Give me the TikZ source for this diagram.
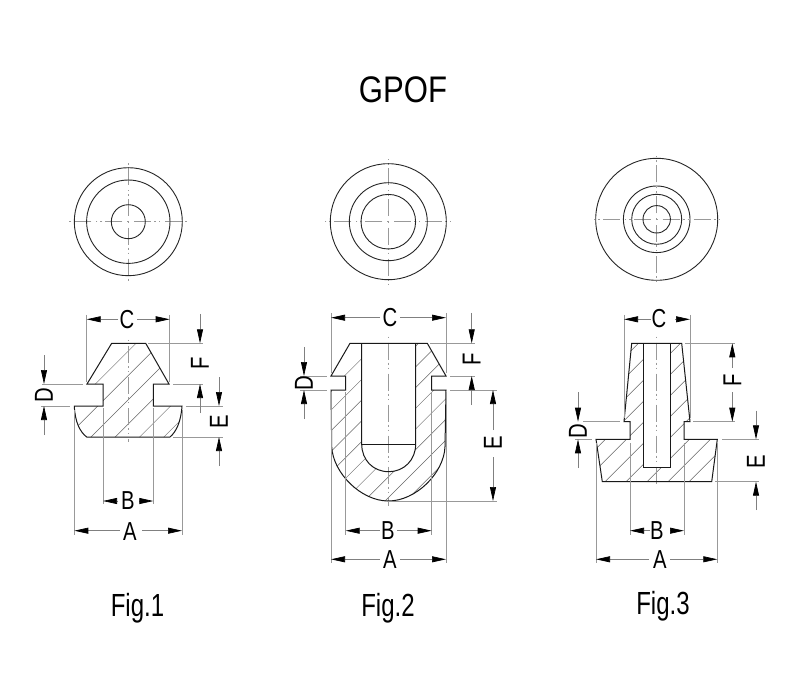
\documentclass[tikz,border=0pt]{standalone}
\usepackage{fontspec}
\setmainfont{Liberation Sans}
\usetikzlibrary{arrows.meta}
\tikzset{
  x=1pt,y=-1pt,
  outline/.style={draw=black!90,line width=1pt,line join=miter},
  thinout/.style={draw=black!85,line width=0.9pt},
  hatchline/.style={draw=black!60,line width=0.45pt},
  extline/.style={draw=black!40,line width=0.7pt},
  dimline/.style={draw=black!50,line width=0.7pt,-{Triangle[length=14pt,width=6pt,fill=black,color=black]}},
  dimtext/.style={font=\fontsize{26}{26}\selectfont,xscale=0.78,inner sep=0pt},
  figtext/.style={font=\fontsize{32}{32}\selectfont,xscale=0.75,inner sep=0pt,anchor=base},
  titletext/.style={font=\fontsize{37}{37}\selectfont,xscale=0.84,inner sep=0pt},
  centre/.style={draw=black!40,line width=0.8pt,dash pattern=on 1pt off 5pt on 17pt off 3pt on 2pt off 3pt},
}
\newcommand{\crossmark}[5]{%
  \draw[centre] (#1,#2) -- ++(#3,0);
  \draw[centre] (#1,#2) -- ++(-#3,0);
  \draw[centre] (#1,#2) -- ++(0,#4);
  \draw[centre] (#1,#2) -- ++(0,-#5);
}
\newcommand{\rotlabel}[4]{\node[rotate=90,dimtext] (#1) at (#2,#3) {#4};}
\begin{document}
\begin{tikzpicture}
\useasboundingbox (0,0) rectangle (800,700);
\fill[white] (0,0) rectangle (800,700);

% titles
\node[titletext] (title) at (403,90) {GPOF};
\node[figtext] (fig1) at (137.5,616) {Fig.1};
\node[figtext] (fig2) at (388,616) {Fig.2};
\node[figtext] (fig3) at (663,614) {Fig.3};

% top views
\crossmark{128.3}{221.7}{60}{59}{59}
\foreach \r in {54,41.7,17} \draw[thinout] (128.3,221.7) circle[radius=\r];
\crossmark{388.3}{221.7}{63.5}{63.5}{63.5}
\foreach \r in {58,39,27.3} \draw[thinout] (388.3,221.7) circle[radius=\r];
\crossmark{656.7}{219.3}{66.5}{67.5}{66.5}
\foreach \r in {61,33.3,25,13.7} \draw[thinout] (656.7,219.3) circle[radius=\r];

% ---------- Fig.1 section ----------
\begin{scope}
\clip (111.7,343.3) -- (145.7,343.3) -- (169,384) -- (153.3,384) -- (153.3,406) -- (182,406)
  .. controls (181,422) and (176,432) .. (170,437) -- (86.7,437)
  .. controls (80,432) and (75,422) .. (74.3,406) -- (103,406) -- (103,384) -- (87,384) -- cycle;
\foreach \k in {-4,...,3} {\pgfmathsetmacro{\s}{528+24.3*\k}
  \draw[hatchline] (\s-300,300) -- (\s-500,500);}
\end{scope}
\draw[centre] (128.3,340) -- (128.3,441.7);
\draw[outline] (111.7,343.3) -- (145.7,343.3) -- (169,384) -- (153.3,384) -- (153.3,406) -- (182,406)
  .. controls (181,422) and (176,432) .. (170,437) -- (86.7,437)
  .. controls (80,432) and (75,422) .. (74.3,406) -- (103,406) -- (103,384) -- (87,384) -- cycle;
% extension lines
\draw[extline] (86.7,315) -- (86.7,381.7);
\draw[extline] (169.7,315) -- (169.7,381.7);
\draw[extline] (148,343.3) -- (203,343.3);
\draw[extline] (173,384) -- (203,384);
\draw[extline] (186,406) -- (223,406);
\draw[extline] (173,437) -- (223,437);
\draw[extline] (42,384) -- (83,384);
\draw[extline] (41,406) -- (70,406);
\draw[extline] (103,408) -- (103,504);
\draw[extline] (153.3,408) -- (153.3,504);
\draw[extline] (74.3,410) -- (74.3,535);
\draw[extline] (182,410) -- (182,535);
% dimensions
\draw[dimline] (118,319.3) -- (86.7,319.3);
\draw[dimline] (137,319.3) -- (169.7,319.3);
\node[dimtext] (c1) at (127,320) {C};
\draw[dimline] (200,314) -- (200,343.3);
\draw[dimline] (200,413) -- (200,384);
\rotlabel{f1}{200}{363}{F}
\draw[dimline] (219,377) -- (219,406);
\draw[dimline] (219,466) -- (219,437);
\rotlabel{e1}{219}{422}{E}
\draw[dimline] (44,355) -- (44,384);
\draw[dimline] (44,435) -- (44,406);
\rotlabel{d1}{44}{395}{D}
\draw[dimline] (118,501) -- (103,501);
\draw[dimline] (139,501) -- (153.3,501);
\node[dimtext] (b1) at (128,501) {B};
\draw[dimline] (120,530.7) -- (74.3,530.7);
\draw[dimline] (142,530.7) -- (182,530.7);
\node[dimtext] (a1) at (130,532) {A};

% ---------- Fig.2 section ----------
\begin{scope}
\clip (350,343.3) -- (427.3,343.3) -- (446,376) -- (431.7,376) -- (431.7,390) -- (446,390)
  -- (445,446.7) .. controls (444,473) and (416,501) .. (388.3,501)
  .. controls (361,501) and (333,473) .. (331.7,446.7) -- (331,390) -- (345.7,390) -- (345.7,376) -- (331,376) -- cycle;
\foreach \k in {-8,...,3} {\pgfmathsetmacro{\s}{886+20.7*\k}
  \draw[hatchline] (\s-300,300) -- (\s-520,520);}
\fill[white] (361.7,343.3) -- (415.7,343.3) -- (415.7,444)
  .. controls (415.7,460) and (404,471.7) .. (388.7,471.7)
  .. controls (373,471.7) and (361.7,460) .. (361.7,444) -- cycle;
\end{scope}
\draw[centre] (388.3,336.7) -- (388.3,506);
\draw[outline] (350,343.3) -- (427.3,343.3) -- (446,376) -- (431.7,376) -- (431.7,390) -- (446,390)
  -- (445,446.7) .. controls (444,473) and (416,501) .. (388.3,501)
  .. controls (361,501) and (333,473) .. (331.7,446.7) -- (331,390) -- (345.7,390) -- (345.7,376) -- (331,376) -- cycle;
\draw[outline] (361.7,343.3) -- (361.7,444)
  .. controls (361.7,460) and (373,471.7) .. (388.7,471.7)
  .. controls (404,471.7) and (415.7,460) .. (415.7,444) -- (415.7,343.3);
\draw[outline,line width=0.7pt] (361.7,444) -- (415.7,444);
% extension lines
\draw[extline] (331,313) -- (331,373);
\draw[extline] (446,313) -- (446,373);
\draw[extline] (430,343.3) -- (475,343.3);
\draw[extline] (450,376) -- (475,376);
\draw[extline] (450,390) -- (497,390);
\draw[extline] (387,501) -- (497,501);
\draw[extline] (300,376) -- (327,376);
\draw[extline] (300,390) -- (327,390);
\draw[extline] (345.7,392) -- (345.7,535);
\draw[extline] (431.7,392) -- (431.7,535);
\draw[extline] (331,392) -- (331,563);
\draw[extline] (446,392) -- (446,563);
% dimensions
\draw[dimline] (380,317.7) -- (331,317.7);
\draw[dimline] (400,317.7) -- (446,317.7);
\node[dimtext] (c2) at (390,318) {C};
\draw[dimline] (471.7,313) -- (471.7,343.3);
\draw[dimline] (471.7,405) -- (471.7,376);
\rotlabel{f2}{471.7}{359}{F}
\draw[dimline] (493,430) -- (493,390);
\draw[dimline] (493,457) -- (493,501);
\rotlabel{e2}{493}{443}{E}
\draw[dimline] (304,347) -- (304,376);
\draw[dimline] (304,419) -- (304,390);
\rotlabel{d2}{304}{383}{D}
\draw[dimline] (380,530.7) -- (345.7,530.7);
\draw[dimline] (397,530.7) -- (431.7,530.7);
\node[dimtext] (b2) at (388,531) {B};
\draw[dimline] (380,559.3) -- (331,559.3);
\draw[dimline] (400,559.3) -- (446,559.3);
\node[dimtext] (a2) at (390,560) {A};

% ---------- Fig.3 section ----------
\begin{scope}
\clip (631.7,343.3) -- (681.7,343.3) -- (690,421.7) -- (684,421.7) -- (684,439.3) -- (717.3,439.3)
  -- (711.7,481.7) -- (602.3,481.7) -- (596,439.3) -- (630,439.3) -- (630,421.7) -- (624,421.7) -- cycle;
\foreach \k in {-8,...,3} {\pgfmathsetmacro{\s}{1107.7+21*\k}
  \draw[hatchline] (\s-300,300) -- (\s-520,520);}
\fill[white] (643.3,343.3) rectangle (670.7,467.7);
\end{scope}
\draw[centre] (656.7,336.7) -- (656.7,486);
\draw[outline] (631.7,343.3) -- (681.7,343.3) -- (690,421.7) -- (684,421.7) -- (684,439.3) -- (717.3,439.3)
  -- (711.7,481.7) -- (602.3,481.7) -- (596,439.3) -- (630,439.3) -- (630,421.7) -- (624,421.7) -- cycle;
\draw[outline] (643.3,343.3) -- (643.3,467.7) -- (670.7,467.7) -- (670.7,343.3);
% extension lines
\draw[extline] (624,315) -- (624,418);
\draw[extline] (690,315) -- (690,418);
\draw[extline] (685,343.3) -- (735,343.3);
\draw[extline] (693,421.7) -- (735,421.7);
\draw[extline] (722,439.3) -- (759,439.3);
\draw[extline] (715,481.7) -- (759,481.7);
\draw[extline] (583,421.7) -- (620,421.7);
\draw[extline] (575,439.3) -- (592,439.3);
\draw[extline] (630,443) -- (630,535);
\draw[extline] (684,443) -- (684,535);
\draw[extline] (596,443) -- (596,563);
\draw[extline] (717.3,443) -- (717.3,563);
% dimensions
\draw[dimline] (651,319.3) -- (624,319.3);
\draw[dimline] (675,319.3) -- (690,319.3);
\node[dimtext] (c3) at (659,319) {C};
\draw[dimline] (732.3,368) -- (732.3,343.3);
\draw[dimline] (732.3,392) -- (732.3,421.7);
\rotlabel{f3}{732.3}{380}{F}
\draw[dimline] (756,410.7) -- (756,439.3);
\draw[dimline] (756,510) -- (756,481.7);
\rotlabel{e3}{756}{462}{E}
\draw[dimline] (578,392) -- (578,421.7);
\draw[dimline] (578,468) -- (578,439.3);
\rotlabel{d3}{578}{431}{D}
\draw[dimline] (650,530.7) -- (630,530.7);
\draw[dimline] (670,530.7) -- (684,530.7);
\node[dimtext] (b3) at (657,531) {B};
\draw[dimline] (649,559.3) -- (596,559.3);
\draw[dimline] (670,559.3) -- (717.3,559.3);
\node[dimtext] (a3) at (660,560) {A};
\end{tikzpicture}
\end{document}
